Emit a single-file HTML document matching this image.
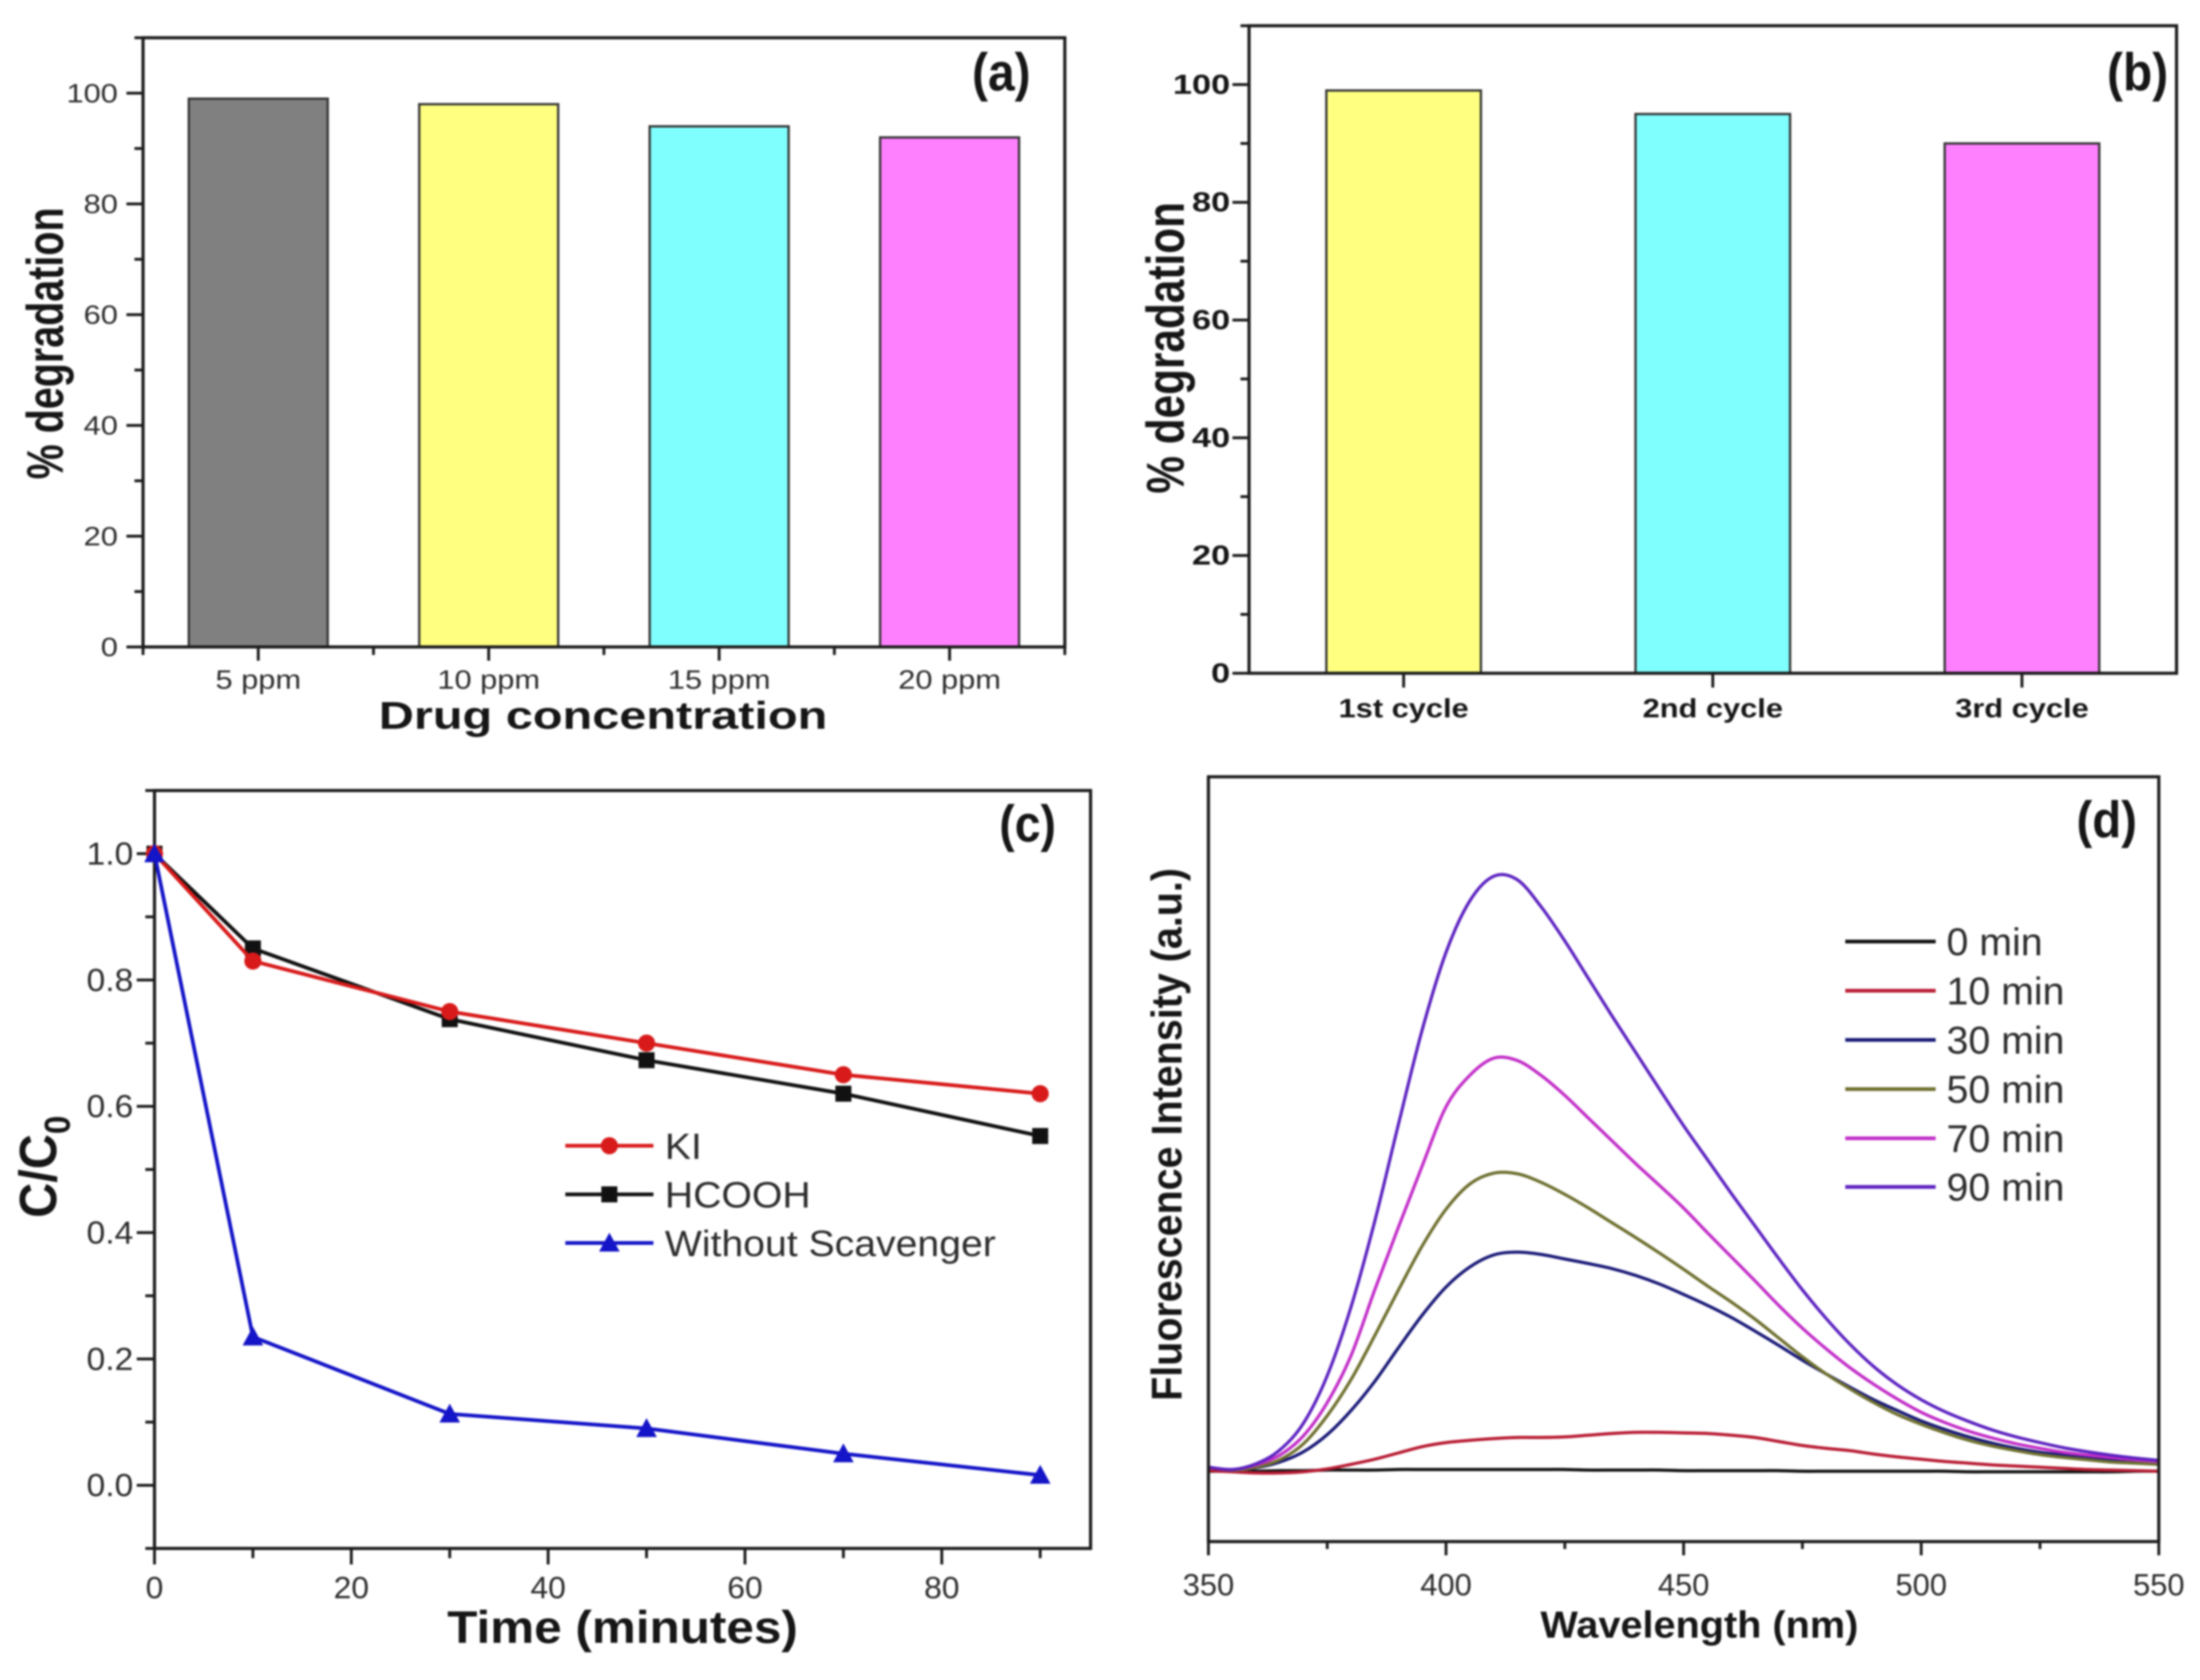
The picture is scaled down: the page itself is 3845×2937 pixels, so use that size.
<!DOCTYPE html>
<html lang="en">
<head>
<meta charset="utf-8">
<title>Degradation charts</title>
<style>
html,body{margin:0;padding:0;background:#fff;width:3845px;height:2937px;overflow:hidden}
svg{display:block;filter:blur(1.7px)}
text{font-family:"Liberation Sans",sans-serif}
.t{fill:#2c2c2c}
.b{font-weight:bold;fill:#161616}
</style>
</head>
<body>
<svg id="fig" xmlns="http://www.w3.org/2000/svg" width="3845" height="2937" viewBox="0 0 3845 2937">
<rect width="3845" height="2937" fill="#fff"/>
<g id="pa"></g>
<g id="pb"></g>
<g id="pc"></g>
<g id="pd"></g>
<text class="b" font-size="69" transform="translate(110,838) rotate(-90) scale(1,1.3)">% degradation</text>
<text class="b" font-size="68" text-anchor="middle" transform="translate(1054,1274) scale(1.25,1)">Drug concentration</text>
<text class="b" font-size="93" text-anchor="middle" transform="translate(1750,158) scale(0.9,1)">(a)</text>
<text class="b" font-size="74" transform="translate(2069,863) rotate(-90) scale(1,1.25)">% degradation</text>
<text class="b" font-size="93" text-anchor="middle" transform="translate(3736,158) scale(0.9,1)">(b)</text>
<text class="b" font-size="85" transform="translate(98,2129) rotate(-90) scale(1,1.08)">C/C<tspan font-size="58" dy="22">0</tspan></text>
<text class="b" font-size="80" text-anchor="middle" transform="translate(1088,2872) scale(1.08,1)">Time (minutes)</text>
<text class="b" font-size="90" text-anchor="middle" transform="translate(1796,1471) scale(0.9,1)">(c)</text>
<text class="b" font-size="69" transform="translate(2065,2449) rotate(-90) scale(1,1.09)">Fluorescence Intensity (a.u.)</text>
<text class="b" font-size="66" text-anchor="middle" transform="translate(2970,2863) scale(1.05,1)">Wavelength (nm)</text>
<text class="b" font-size="90" text-anchor="middle" transform="translate(3682,1464) scale(0.92,1)">(d)</text>
</svg>
<script>
// ---- Panel (a) data
const aCategories = ['5 ppm', '10 ppm', '15 ppm', '20 ppm'];
const aValues = [99, 98, 94, 92];
const aColors = ['#808080', '#ffff80', '#80ffff', '#ff80ff'];
const aYLabels = ['0', '20', '40', '60', '80', '100'];
const aYMinor = [10, 30, 50, 70, 90, 110];
// ---- Panel (b) data
const bCategories = ['1st cycle', '2nd cycle', '3rd cycle'];
const bValues = [99, 95, 90];
const bColors = ['#ffff80', '#80ffff', '#ff80ff'];
const bYLabels = ['0', '20', '40', '60', '80', '100'];
const bYMinor = [10, 30, 50, 70, 90, 110];
// ---- Panel (c) data
const cTime = [0, 10, 30, 50, 70, 90];
const cKI = [1, 0.83, 0.75, 0.70, 0.65, 0.62];
const cHCOOH = [1, 0.85, 0.738, 0.673, 0.62, 0.553];
const cNone = [1, 0.235, 0.113, 0.09, 0.05, 0.016];
const cYLabels = ['0.0', '0.2', '0.4', '0.6', '0.8', '1.0'];
const cYMinor = [-0.1, 0.1, 0.3, 0.5, 0.7, 0.9, 1.1];
const cXLabels = ['0', '20', '40', '60', '80'];
const cXMinor = [10, 30, 50, 70, 90];
// ---- Panel (d) data (intensity in arbitrary units)
const dWavelength = [350,355,360,365,370,375,380,385,390,395,400,405,410,415,420,425,430,435,440,445,450,455,460,465,470,475,480,485,490,495,500,505,510,515,520,525,530,535,540,545,550];
const d0min  = [-2,-2,-2,-1,-1,0,0,0,1,1,1,1,1,1,1,1,0,0,0,0,-1,-1,-1,-1,-1,-2,-2,-2,-2,-2,-2,-2,-3,-3,-3,-3,-3,-3,-3,-2,-2];
const d10min = [-1,-3,-5,-5,-3,2,10,19,30,41,48,52,55,57,57,58,61,64,66,66,65,64,61,57,50,43,38,34,28,23,19,15,12,9,7,5,3,1,0,-1,-2];
const d30min = [5,0,4,14,32,62,104,155,214,271,320,355,376,381,377,369,361,352,340,325,307,288,267,243,218,192,168,145,123,104,86,71,58,47,38,31,26,21,18,15,13];
const d50min = [5,0,5,18,46,95,158,235,315,392,456,500,519,518,503,482,458,432,406,379,351,322,294,264,231,198,168,142,118,97,80,65,52,42,34,27,22,18,14,12,10];
const d70min = [5,1,9,26,60,118,200,315,425,532,635,690,720,716,690,655,615,575,535,497,458,415,373,331,288,248,212,179,150,124,101,83,68,56,46,38,31,26,22,18,15];
const d90min = [5,1,11,35,82,165,285,435,605,770,905,995,1038,1032,985,925,859,793,729,665,602,543,484,427,370,315,265,220,181,149,123,102,85,70,58,48,39,32,26,21,17];
const dXLabels = ['350', '400', '450', '500', '550'];
const dXMinor = [375, 425, 475, 525];
const dNames = ['0 min', '10 min', '30 min', '50 min', '70 min', '90 min'];

const NS = 'http://www.w3.org/2000/svg';
function mk(parent, tag, name, attrs) {
  const el = document.createElementNS(NS, tag);
  
  
  for (const k in attrs) el.setAttribute(k, attrs[k]);
  parent.appendChild(el);
  return el;
}
function label(parent, name, str, x, y, size, sx, anchor, cls) {
  const el = mk(parent, 'text', name, {
    'font-size': size, 'text-anchor': anchor, 'class': cls,
    transform: 'translate(' + x + ',' + y + ') scale(' + sx + ',1)'
  });
  el.textContent = str;
  return el;
}
function tick(parent, name, x1, y1, x2, y2) {
  return mk(parent, 'line', name, { x1: x1, y1: y1, x2: x2, y2: y2, stroke: '#1c1c1c', 'stroke-width': 5 });
}
function frame(parent, name, L, T, R, B) {
  mk(parent, 'rect', name, { x: L, y: T, width: R - L, height: B - T, fill: 'none', stroke: '#1c1c1c', 'stroke-width': 5.5 });
}

function barPanel(g, prefix, box, cats, vals, cols, yLabels, yMinor, opt) {
  const y = v => box.B - (v - 0) * (box.B - box.T) / 110;
  const step = (box.R - box.L) / cats.length;
  const xc = i => box.L + step * (i + 0.5);
  cats.forEach((c, i) => {
    const w = step * opt.barFrac;
    mk(g, 'rect', prefix + '-bar-' + i, {
      x: xc(i) - w / 2, y: y(vals[i]), width: w, height: box.B - y(vals[i]),
      fill: cols[i], stroke: '#333', 'stroke-width': 4
    });
    tick(g, prefix + '-x-tick-' + i, xc(i), box.B, xc(i), box.B + opt.xMajor);
    label(g, prefix + '-x-label-' + i, c, xc(i), opt.xBase, opt.xSize, opt.xSx, 'middle', opt.cls);
    if (opt.xMinor) {
      tick(g, prefix + '-x-minor-' + i, box.L + step * i, box.B, box.L + step * i, box.B + opt.xMinor);
      if (i === cats.length - 1) tick(g, prefix + '-x-minor-end', box.R, box.B, box.R, box.B + opt.xMinor);
    }
  });
  yLabels.forEach(s => {
    const v = parseFloat(s);
    tick(g, prefix + '-y-tick-' + s, box.L - 29, y(v), box.L, y(v));
    label(g, prefix + '-y-label-' + s, s, opt.yRight, y(v) + 16, opt.ySize, opt.ySx, 'end', opt.cls);
  });
  yMinor.forEach(v => {
    tick(g, prefix + '-y-minor-' + v, box.L - 15, y(v), box.L, y(v));
  });
  frame(g, prefix + '-plot-frame', box.L, box.T, box.R, box.B);
}

barPanel(document.getElementById('pa'), 'a', { L: 250, R: 1861, T: 66, B: 1131 }, aCategories, aValues, aColors, aYLabels, aYMinor,
  { barFrac: 0.603, xMajor: 24, xMinor: 14, xBase: 1204, xSize: 46, xSx: 1.17, yRight: 206, ySize: 46, ySx: 1.17, cls: 't' });
barPanel(document.getElementById('pb'), 'b', { L: 2183, R: 3804, T: 45, B: 1177 }, bCategories, bValues, bColors, bYLabels, bYMinor,
  { barFrac: 0.5, xMajor: 25, xMinor: 0, xBase: 1254, xSize: 46, xSx: 1.17, yRight: 2150, ySize: 48, ySx: 1.25, cls: 'b' });

// ---- Panel (c)
(function () {
  const g = document.getElementById('pc');
  const box = { L: 270, R: 1906, T: 1382, B: 2707 };
  const x = v => box.L + v * 17.2;
  const y = v => box.B - (v + 0.1) * (box.B - box.T) / 1.2;
  cYLabels.forEach(s => {
    const v = parseFloat(s);
    tick(g, 'c-y-tick-' + s, box.L - 31, y(v), box.L, y(v));
    label(g, 'c-y-label-' + s, s, 233, y(v) + 19, 56, 1.05, 'end', 't');
  });
  cYMinor.forEach(v => {
    tick(g, 'c-y-minor-' + v, box.L - 16, y(v), box.L, y(v));
  });
  cXLabels.forEach(s => {
    const v = parseFloat(s);
    tick(g, 'c-x-tick-' + s, x(v), box.B, x(v), box.B + 28);
    label(g, 'c-x-label-' + s, s, x(v), 2794, 54, 1.03, 'middle', 't');
  });
  cXMinor.forEach(v => {
    tick(g, 'c-x-minor-' + v, x(v), box.B, x(v), box.B + 17);
  });
  frame(g, 'c-plot-frame', box.L, box.T, box.R, box.B);

  function marker(parent, name, kind, px, py, color) {
    if (kind === 'circle') return mk(parent, 'circle', name, { cx: px, cy: py, r: 15, fill: color });
    if (kind === 'square') return mk(parent, 'rect', name, { x: px - 14, y: py - 14, width: 28, height: 28, fill: color });
    return mk(parent, 'polygon', name, {
      points: (px - 18) + ',' + (py + 15) + ' ' + (px + 18) + ',' + (py + 15) + ' ' + px + ',' + (py - 18), fill: color
    });
  }
  const series = [
    { key: 'hcooh', label: 'HCOOH', vals: cHCOOH, color: '#111111', kind: 'square', ly: 2088 },
    { key: 'ki', label: 'KI', vals: cKI, color: '#d81a1a', kind: 'circle', ly: 2003 },
    { key: 'without-scavenger', label: 'Without Scavenger', vals: cNone, color: '#1414c8', kind: 'triangle', ly: 2173 }
  ];
  series.forEach(s => {
    const pts = cTime.map((t, i) => x(t) + ',' + y(s.vals[i])).join(' ');
    mk(g, 'polyline', 'c-line-' + s.key, { points: pts, fill: 'none', stroke: s.color, 'stroke-width': 6.5 });
    cTime.forEach((t, i) => {
      marker(g, 'c-point-' + s.key + '-' + t, s.kind, x(t), y(s.vals[i]), s.color);
    });
    mk(g, 'line', 'c-legend-line-' + s.key, { x1: 988, y1: s.ly, x2: 1142, y2: s.ly, stroke: s.color, 'stroke-width': 6.5 });
    marker(g, 'c-legend-marker-' + s.key, s.kind, 1065, s.ly, s.color);
    label(g, 'c-legend-label-' + s.key, s.label, 1162, s.ly + 23, 64, 1.07, 'start', 't');
  });
})();

// ---- Panel (d)
(function () {
  const g = document.getElementById('pd');
  const box = { L: 2112, R: 3773, T: 1358, B: 2695 };
  const x = v => box.L + (v - 350) * (box.R - box.L) / 200;
  const y = v => 2570 - v;
  dXLabels.forEach(s => {
    const v = parseFloat(s);
    tick(g, 'd-x-tick-' + s, x(v), box.B, x(v), box.B + 24);
    label(g, 'd-x-label-' + s, s, x(v), 2789, 54, 1, 'middle', 't');
  });
  dXMinor.forEach(v => {
    tick(g, 'd-x-minor-' + v, x(v), box.B, x(v), box.B + 13);
  });
  function smooth(vals) {
    const P = dWavelength.map((w, i) => [x(w), y(vals[i])]);
    let d = 'M' + P[0][0] + ' ' + P[0][1];
    for (let i = 0; i < P.length - 1; i++) {
      const p0 = P[Math.max(i - 1, 0)], p1 = P[i], p2 = P[i + 1], p3 = P[Math.min(i + 2, P.length - 1)];
      const c1 = [p1[0] + (p2[0] - p0[0]) / 6, p1[1] + (p2[1] - p0[1]) / 6];
      const c2 = [p2[0] - (p3[0] - p1[0]) / 6, p2[1] - (p3[1] - p1[1]) / 6];
      d += ' C' + c1[0] + ' ' + c1[1] + ' ' + c2[0] + ' ' + c2[1] + ' ' + p2[0] + ' ' + p2[1];
    }
    return d;
  }
  const curves = [d0min, d10min, d30min, d50min, d70min, d90min];
  const colors = ['#111111', '#b81c34', '#1a1a78', '#6f7030', '#c22ec8', '#5c22c0'];
  const legendY = [1646, 1732, 1818, 1904, 1990, 2075];
  const legendTextY = [1670, 1756, 1842, 1928, 2014, 2099];
  curves.forEach((vals, i) => {
    mk(g, 'path', 'd-curve-' + dNames[i].replace(' ', '-'), { d: smooth(vals), fill: 'none', stroke: colors[i], 'stroke-width': 5.5 });
    mk(g, 'line', 'd-legend-line-' + dNames[i].replace(' ', '-'), { x1: 3225, y1: legendY[i], x2: 3383, y2: legendY[i], stroke: colors[i], 'stroke-width': 6.5 });
    label(g, 'd-legend-label-' + dNames[i].replace(' ', '-'), dNames[i], 3402, legendTextY[i], 68, 1.01, 'start', 't');
  });
  frame(g, 'd-plot-frame', box.L, box.T, box.R, box.B);
})();
</script>
</body>
</html>
